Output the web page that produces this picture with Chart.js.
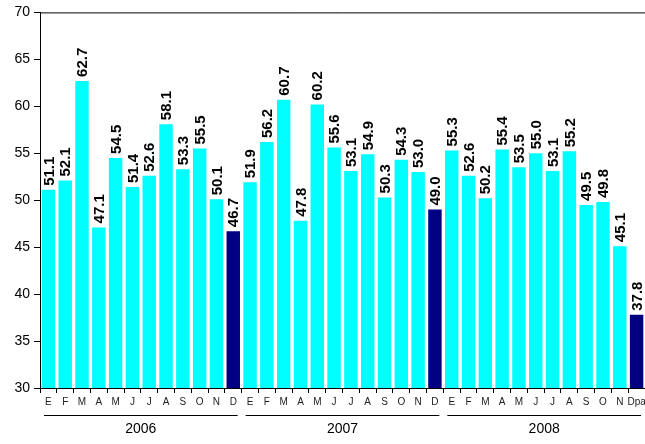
<!DOCTYPE html>
<html>
<head>
<meta charset="utf-8">
<script src="https://cdn.jsdelivr.net/npm/chart.js@4"></script>
<style>
  html, body { margin: 0; padding: 0; background: #fff; }
  #wrap { width: 645px; height: 444px; }
</style>
</head>
<body>
<div id="wrap"><canvas id="myChart" width="645" height="444"></canvas></div>
<script>
const months = ["E","F","M","A","M","J","J","A","S","O","N","D"]
const years = ["2006", "2007", "2008"]
const values2006 = [51.1, 52.1, 62.7, 47.1, 54.5, 51.4, 52.6, 58.1, 53.3, 55.5, 50.1, 46.7]
const values2007 = [51.9, 56.2, 60.7, 47.8, 60.2, 55.6, 53.1, 54.9, 50.3, 54.3, 53.0, 49.0]
const values2008 = [55.3, 52.6, 50.2, 55.4, 53.5, 55.0, 53.1, 55.2, 49.5, 49.8, 45.1, 37.8]
const lastLabel = "Dpa"
const yTicks = [30, 35, 40, 45, 50, 55, 60, 65, 70]

const cyan = "#00ffff"
const navy = "#000080"

var labels = months.concat(months, months.slice(0, 11), [lastLabel])
var values = values2006.concat(values2007, values2008)
var colors = values.map((v, i) => (i % 12 == 11) ? navy : cyan)

// labels on top of bars, written upward
const barLabels = {
  id: 'barLabels',
  afterDatasetsDraw(chart) {
    const ctx = chart.ctx
    const meta = chart.getDatasetMeta(0)
    ctx.save()
    ctx.font = "bold 15px 'Liberation Sans', Arial, sans-serif"
    ctx.fillStyle = "#000"
    ctx.textAlign = "left"
    ctx.textBaseline = "middle"
    meta.data.forEach((bar, i) => {
      ctx.save()
      ctx.translate(bar.x + 1, bar.y - 4)
      ctx.rotate(-Math.PI / 2)
      ctx.fillText(values[i].toFixed(1), 0, 0)
      ctx.restore()
    })
    ctx.restore()
  }
}

// top frame line and year groups under the axis
const yearGroups = {
  id: 'yearGroups',
  afterDraw(chart) {
    const ctx = chart.ctx
    const area = chart.chartArea
    const x = chart.scales.x
    ctx.save()
    ctx.strokeStyle = "#000"
    ctx.lineWidth = 1
    ctx.beginPath()
    ctx.moveTo(area.left, area.top + 0.5)
    ctx.lineTo(area.right, area.top + 0.5)
    ctx.stroke()

    ctx.font = "14px 'Liberation Sans', Arial, sans-serif"
    ctx.fillStyle = "#000"
    ctx.textAlign = "center"
    ctx.textBaseline = "middle"
    years.forEach((yr, k) => {
      const a = x.getPixelForValue(k * 12)
      const b = x.getPixelForValue(k * 12 + 11)
      const half = (x.getPixelForValue(1) - x.getPixelForValue(0)) / 2
      const x1 = a - half + 4
      const x2 = b + half - 4
      ctx.beginPath()
      ctx.moveTo(x1, 415.5)
      ctx.lineTo(x2, 415.5)
      ctx.stroke()
      ctx.fillText(yr, (x1 + x2) / 2, 429)
    })
    ctx.restore()
  }
}

var ctx = document.getElementById("myChart").getContext("2d")
var myChart = new Chart(ctx, {
  type: 'bar',
  data: {
    labels: labels,
    datasets: [{
      data: values,
      backgroundColor: colors,
      borderWidth: 0,
      barPercentage: 0.8,
      categoryPercentage: 1.0
    }]
  },
  options: {
    responsive: false,
    animation: false,
    layout: { padding: { top: 10, right: 0, left: 0, bottom: 0 } },
    plugins: {
      legend: { display: false },
      tooltip: { enabled: false }
    },
    scales: {
      x: {
        grid: { display: true, drawOnChartArea: false, drawTicks: true, tickLength: 5, color: "#000" },
        border: { display: true, color: "#000", width: 1 },
        ticks: {
          autoSkip: false,
          maxRotation: 0,
          minRotation: 0,
          padding: 3,
          color: "#222",
          font: { family: "'Liberation Sans', Arial, sans-serif", size: 10 }
        },
        afterFit(scale) {
          scale.height = 56
          scale.paddingRight = 0
          scale.paddingLeft = 0
        }
      },
      y: {
        min: 30,
        max: 70,
        afterBuildTicks(scale) { scale.ticks = yTicks.map(v => ({ value: v })) },
        grid: { display: true, drawOnChartArea: false, drawTicks: true, tickLength: 6, color: "#000" },
        border: { display: true, color: "#000", width: 1 },
        ticks: {
          padding: 4,
          color: "#000",
          font: { family: "'Liberation Sans', Arial, sans-serif", size: 14 }
        },
        afterFit(scale) { scale.width = 40 }
      }
    }
  },
  plugins: [barLabels, yearGroups]
})
</script>
</body>
</html>
